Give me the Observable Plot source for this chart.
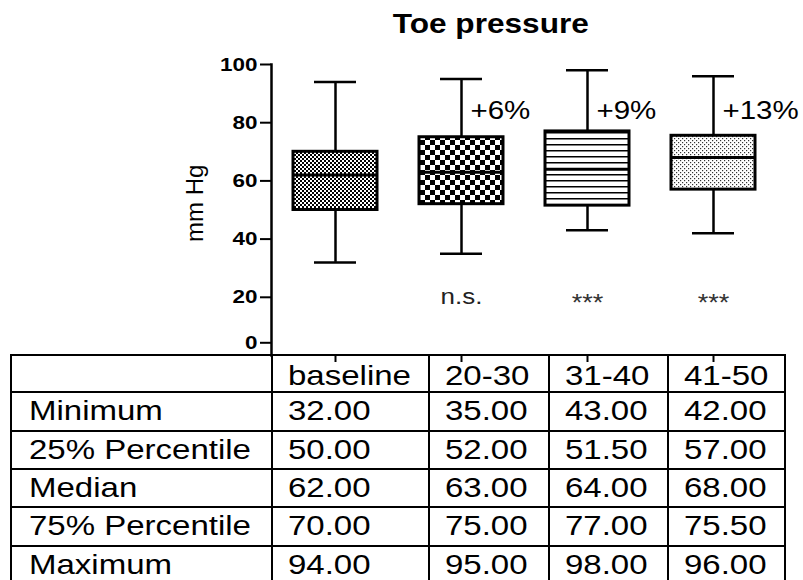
<!DOCTYPE html>
<html>
<head>
<meta charset="utf-8">
<script src="https://cdn.jsdelivr.net/npm/d3@7"></script>
<script src="https://cdn.jsdelivr.net/npm/@observablehq/plot@0.6"></script>
<style>
html,body{margin:0;padding:0;background:#fff;}
#wrap{position:relative;width:803px;height:580px;overflow:hidden;font-family:"Liberation Sans",Arial,sans-serif;color:#000;}
#title{position:absolute;left:0;width:982px;top:11px;text-align:center;font-weight:bold;font-size:27px;line-height:26px;}
#title span{display:inline-block;transform:scaleX(1.17);transform-origin:50% 50%;}
#chart{position:absolute;left:0;top:0;z-index:2;}
#tbl{position:absolute;left:10px;top:354px;z-index:1;border-collapse:collapse;table-layout:fixed;width:776px;}
#tbl td{border:2px solid #000;padding:0 0 5px 15px;vertical-align:bottom;font-size:27.5px;line-height:1;white-space:nowrap;overflow:hidden;}
#tbl td:first-child{padding-left:17px;}
#tbl tr{height:38.4px;}
#tbl tr.hd{height:37.3px;}
#tbl tr.hd td{padding-bottom:2px;}
#tbl td span{display:inline-block;transform:scaleX(1.2);transform-origin:0 50%;}
</style>
</head>
<body>
<div id="wrap">
  <div id="title"><span>Toe pressure</span></div>
  <table id="tbl"></table>
</div>
<script>
// ---- data ----
const categories = ["baseline", "20-30", "31-40", "41-50"];
const minimum = [32, 35, 43, 42];
const q1 = [50, 52, 51.5, 57];
const median = [62, 63, 64, 68];
const q3 = [70, 75, 77, 75.5];
const maximum = [94, 95, 98, 96];
const changeLabels = ["", "+6%", "+9%", "+13%"];
const sigLabels = ["", "n.s.", "***", "***"];
const yTicks = [20, 40, 60, 80, 100];
const yZeroTick = [0];
const rowLabels = ["Minimum", "25% Percentile", "Median", "75% Percentile", "Maximum"];
const yLabel = "mm Hg";

// ---- layout constants ----
const colWidths = [261, 157, 120, 119, 117];
const SX = 1.18; // horizontal text stretch of the original figure

const rows = categories.map((c, i) => ({
  cat: c, min: minimum[i], q1: q1[i], med: median[i], q3: q3[i], max: maximum[i],
  change: changeLabels[i], sig: sigLabels[i]
}));
const patterns = categories.map((c, i) => `url(#pat${i})`);

const axisStyle = {tickSize: 11, tickPadding: 3, strokeWidth: 2, fontSize: 19, fontWeight: "bold", label: null};

const chart = Plot.plot({
  width: 803,
  height: 365,
  marginTop: 64,
  marginBottom: 10,
  marginLeft: 271,
  marginRight: 25,
  style: {fontFamily: '"Liberation Sans", Arial, sans-serif', background: "transparent", overflow: "visible", color: "#000"},
  x: {domain: categories, paddingInner: 0.33, paddingOuter: 0.165, label: null},
  y: {domain: [0, 100], label: null},
  marks: [
    Plot.frame({anchor: "left", strokeWidth: 2.5}),
    Plot.axisY({ticks: yTicks, ...axisStyle}),
    Plot.axisY({ticks: yZeroTick, dy: -12.7, ...axisStyle}),
    Plot.axisX({tickSize: 7, strokeWidth: 2, tickFormat: () => "", label: null}),
    Plot.ruleX(rows, {x: "cat", y1: "min", y2: "max", strokeWidth: 2.5}),
    Plot.tickY(rows, {x: "cat", y: "min", strokeWidth: 2.5, insetLeft: 21, insetRight: 21}),
    Plot.tickY(rows, {x: "cat", y: "max", strokeWidth: 2.5, insetLeft: 21, insetRight: 21}),
    ...rows.map((r, i) => Plot.barY([r], {x: "cat", y1: "q1", y2: "q3", fill: patterns[i], stroke: "#000", strokeWidth: 3})),
    Plot.tickY(rows, {x: "cat", y: "med", strokeWidth: 3}),
    Plot.text(rows, {x: "cat", y: () => 84, text: "change", dx: 9, textAnchor: "start", fontSize: 25}),
    Plot.text(rows.filter(r => r.sig === "n.s."), {x: "cat", y: () => 20, text: "sig", fontSize: 22, fill: "#222"}),
    Plot.text(rows.filter(r => r.sig === "***"), {x: "cat", y: () => 20, text: "sig", fontSize: 23, dy: 6, fill: "#333"}),
    Plot.text([yLabel], {text: d => d, frameAnchor: "left", dx: -76, dy: 32, rotate: -90, fontSize: 24})
  ]
});
chart.id = "chart";

// fill patterns
const defs = d3.select(chart).insert("defs", ":first-child");
const p0 = defs.append("pattern").attr("id", "pat0").attr("patternUnits", "userSpaceOnUse").attr("width", 4).attr("height", 4);
p0.append("rect").attr("width", 4).attr("height", 4).attr("fill", "#fff");
p0.append("rect").attr("width", 2).attr("height", 2).attr("fill", "#000");
p0.append("rect").attr("x", 2).attr("y", 2).attr("width", 2).attr("height", 2).attr("fill", "#000");
const p1 = defs.append("pattern").attr("id", "pat1").attr("patternUnits", "userSpaceOnUse").attr("width", 10).attr("height", 10);
p1.append("rect").attr("width", 10).attr("height", 10).attr("fill", "#fff");
p1.append("rect").attr("width", 5).attr("height", 5).attr("fill", "#000");
p1.append("rect").attr("x", 5).attr("y", 5).attr("width", 5).attr("height", 5).attr("fill", "#000");
const p2 = defs.append("pattern").attr("id", "pat2").attr("patternUnits", "userSpaceOnUse").attr("width", 8).attr("height", 6);
p2.append("rect").attr("width", 8).attr("height", 6).attr("fill", "#fff");
p2.append("rect").attr("width", 8).attr("height", 1.5).attr("fill", "#000");
const p3 = defs.append("pattern").attr("id", "pat3").attr("patternUnits", "userSpaceOnUse").attr("width", 4).attr("height", 4);
p3.append("rect").attr("width", 4).attr("height", 4).attr("fill", "#fff");
p3.append("rect").attr("width", 1.2).attr("height", 1.2).attr("fill", "#333");
p3.append("rect").attr("x", 2).attr("y", 2).attr("width", 1.2).attr("height", 1.2).attr("fill", "#333");

// horizontal stretch of non-rotated texts
chart.querySelectorAll("text").forEach(t => {
  const tr = t.getAttribute("transform");
  if (tr && tr.includes("rotate")) return;
  if (tr) t.setAttribute("transform", tr + ` scale(${SX},1)`);
  else {
    const x = parseFloat(t.getAttribute("x")) || 0, y = parseFloat(t.getAttribute("y")) || 0;
    t.removeAttribute("x"); t.removeAttribute("y");
    t.setAttribute("transform", `translate(${x},${y}) scale(${SX},1)`);
  }
});
document.getElementById("wrap").appendChild(chart);

// table
const statRows = [minimum, q1, median, q3, maximum];
let html = `<colgroup>${colWidths.map(w => `<col style="width:${w}px">`).join("")}</colgroup>`;
html += `<tr class="hd"><td></td>${categories.map(c => `<td><span>${c}</span></td>`).join("")}</tr>`;
rowLabels.forEach((lab, r) => {
  html += `<tr><td><span>${lab}</span></td>${statRows[r].map(v => `<td><span>${v.toFixed(2)}</span></td>`).join("")}</tr>`;
});
document.getElementById("tbl").innerHTML = html;
</script>
</body>
</html>
